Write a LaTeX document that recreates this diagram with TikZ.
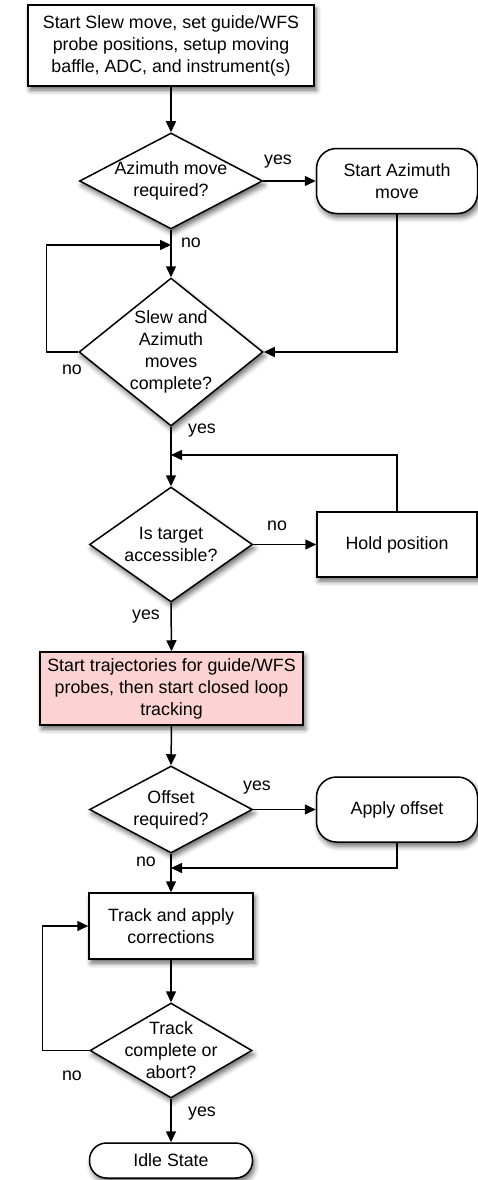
\documentclass[tikz,border=0pt]{standalone}
\usepackage{fontspec}
\setmainfont{Liberation Sans}
\usetikzlibrary{shapes.geometric,arrows.meta,shadows.blur}
\definecolor{pinkfill}{RGB}{252,210,210}
\tikzset{
  every node/.style={font=\fontsize{17.8pt}{22pt}\selectfont},
  shad/.style={blur shadow={shadow xshift=2pt,shadow yshift=-4pt,shadow blur radius=5pt,shadow opacity=60}},
  procbox/.style={draw=black,line width=1.5pt,fill=white,rectangle,inner sep=0pt,align=center,shad},
  roundbox/.style={procbox,rounded corners=20pt},
  diabox/.style={draw=black,line width=1.5pt,fill=white,diamond,inner sep=0pt,shad},
  dtext/.style={align=center,inner sep=0pt},
  lbl/.style={inner sep=0pt},
  arr/.style={line width=1.5pt,-{Triangle[length=11pt,width=10pt]}}
}
\begin{document}
\begin{tikzpicture}[x=1pt,y=-1pt]
\useasboundingbox (0,0) rectangle (478,1180);
% nodes
\node[procbox,minimum width=286pt,minimum height=81pt] (b1) at (171,45.5)
  {Start Slew move, set guide/WFS\\probe positions, setup moving\\baffle, ADC, and instrument(s)};
\node[diabox,minimum width=183pt,minimum height=96pt] (d1) at (171,181) {};
\node[dtext] (d1t) at (d1) {Azimuth move\\required?};
\node[roundbox,minimum width=161pt,minimum height=65pt] (az) at (397,181) {Start Azimuth\\move};
\node[diabox,minimum width=184pt,minimum height=148pt] (d2) at (171,352) {};
\node[dtext] (d2t) at (d2) {Slew and\\Azimuth\\moves\\complete?};
\node[diabox,minimum width=163pt,minimum height=115pt] (d3) at (171,544.5) {};
\node[dtext] (d3t) at (d3) {Is target\\accessible?};
\node[procbox,minimum width=160pt,minimum height=65pt] (hold) at (397,544.5) {Hold position};
\node[procbox,fill=pinkfill,minimum width=263pt,minimum height=73pt] (pink) at (171.5,688.5)
  {Start trajectories for guide/WFS\\probes, then start closed loop\\tracking};
\node[diabox,minimum width=163pt,minimum height=87pt] (d4) at (171,809.5) {};
\node[dtext] (d4t) at (d4) {Offset\\required?};
\node[roundbox,minimum width=161pt,minimum height=65pt] (apply) at (397,809.5) {Apply offset};
\node[procbox,minimum width=164pt,minimum height=66pt] (track) at (171,926) {Track and apply\\corrections};
\node[diabox,minimum width=162pt,minimum height=95pt] (d5) at (171,1050.5) {};
\node[dtext] (d5t) at (d5) {Track\\complete or\\abort?};
\node[roundbox,rounded corners=17pt,minimum width=163pt,minimum height=35pt] (idle) at (171,1160.5) {Idle State};
% merge points
\coordinate (m1) at (171,245);
\coordinate (m2) at (171,455);
\coordinate (m3) at (171,868);
% connectors
\draw[arr] (b1.south) -- (d1.north);
\draw[arr] (d1.east) -- (az.west);
\draw[arr] (d1.south) -- (d2.north);
\draw[arr] (az.south) |- (d2.east);
\draw[arr] (d2.west) -- ++(-32,0) |- (m1);
\draw[arr] (d2.south) -- (d3.north);
\draw[arr] (hold.north) |- (m2);
\draw[arr] (d3.east) -- (hold.west);
\draw[arr] (d3.south) -- (pink.north);
\draw[arr] (pink.south) -- (d4.north);
\draw[arr] (d4.east) -- (apply.west);
\draw[arr] (apply.south) |- (m3);
\draw[arr] (d4.south) -- (track.north);
\draw[arr] (track.south) -- (d5.north);
\draw[arr] (d5.west) -- ++(-47,0) |- (track.west);
\draw[arr] (d5.south) -- (idle.north);
% labels
\node[lbl] (l1) at (278,162) {yes};
\node[lbl] (l2) at (191,243) {no};
\node[lbl] (l3) at (72,370) {no};
\node[lbl] (l4) at (202,431) {yes};
\node[lbl] (l5) at (277,526) {no};
\node[lbl] (l6) at (146,617) {yes};
\node[lbl] (l7) at (257,788) {yes};
\node[lbl] (l8) at (146,862) {no};
\node[lbl] (l9) at (72,1076) {no};
\node[lbl] (l10) at (202,1114) {yes};
\end{tikzpicture}
\end{document}
